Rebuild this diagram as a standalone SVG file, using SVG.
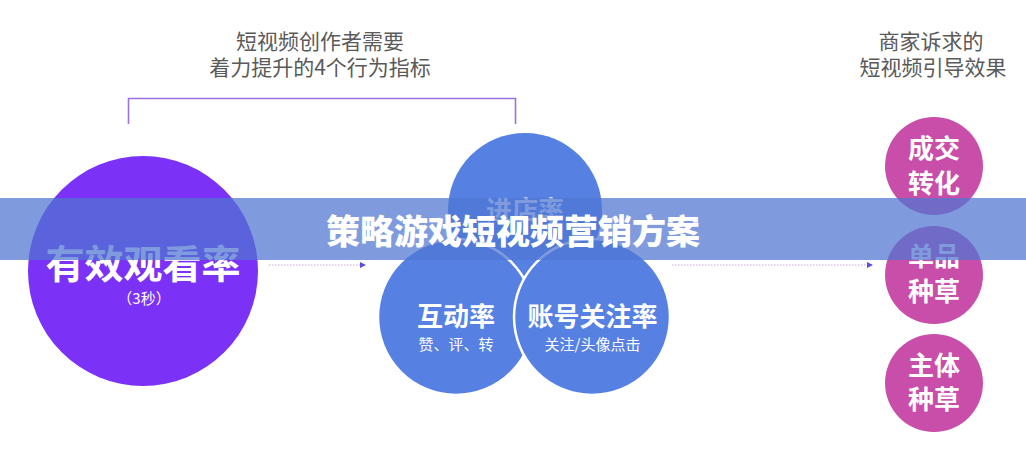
<svg xmlns="http://www.w3.org/2000/svg" width="1026" height="459" viewBox="0 0 1026 459">
  <defs>
    <style>
      text { font-family: "Noto Sans CJK SC", "Noto Sans", sans-serif; text-anchor: middle; }
      .label { font-size: 21px; fill: #5a5a5a; }
      .big { font-weight: bold; fill: #ffffff; }
      .sub { font-size: 15px; fill: #ffffff; }
      .blue { fill: #5681E3; }
      .pink { fill: #C84EAA; }
      .dot { stroke: #c9a6e6; stroke-width: 1.2; stroke-dasharray: 1.5 1.5; fill: none; }
    </style>
    <marker id="arr" viewBox="0 0 6 6" refX="5" refY="3" markerWidth="6" markerHeight="6" markerUnits="userSpaceOnUse" orient="auto">
      <path d="M0,0 L6,3 L0,6 Z" fill="#5a4fd8"/>
    </marker>
  </defs>
  <rect width="1026" height="459" fill="#ffffff"/>

  <g id="label-left">
    <text class="label" x="320" y="48.5">短视频创作者需要</text>
    <text class="label" x="320" y="75">着力提升的4个行为指标</text>
    <path d="M128.5,124 V98.5 H515.5 V124" fill="none" stroke="#9a72dc" stroke-width="1.6"/>
  </g>

  <g id="label-right">
    <text class="label" x="931" y="48.5">商家诉求的</text>
    <text class="label" x="933" y="75">短视频引导效果</text>
  </g>

  <g id="node-watch">
    <circle cx="143" cy="271" r="115" fill="#7B32F6"/>
    <text class="big" x="143" y="278" font-size="39" font-weight="900">有效观看率</text>
    <text class="sub" x="144" y="304">（3秒）</text>
  </g>

  <g id="node-store">
    <circle class="blue" cx="525" cy="210" r="77"/>
    <text class="big" x="525" y="220" font-size="26">进店率</text>
  </g>
  <g id="node-interact">
    <circle class="blue" cx="456" cy="317" r="78" stroke="#ffffff" stroke-width="2.5"/>
    <text class="big" x="456" y="326" font-size="26">互动率</text>
    <text class="sub" x="456" y="350">赞、评、转</text>
  </g>
  <g id="node-follow">
    <circle class="blue" cx="592" cy="317" r="78" stroke="#ffffff" stroke-width="2.5"/>
    <text class="big" x="592.5" y="326" font-size="26">账号关注率</text>
    <text class="sub" x="592.5" y="350">关注/头像点击</text>
  </g>

  <g id="node-deal">
    <circle class="pink" cx="934" cy="166" r="49"/>
    <text class="big" x="934" y="158" font-size="26">成交</text>
    <text class="big" x="934" y="193" font-size="26">转化</text>
  </g>
  <g id="node-item">
    <circle class="pink" cx="934" cy="275" r="49"/>
    <text class="big" x="934" y="266" font-size="26">单品</text>
    <text class="big" x="934" y="301" font-size="26">种草</text>
  </g>
  <g id="node-brand">
    <circle class="pink" cx="934" cy="383" r="49"/>
    <text class="big" x="934" y="375" font-size="26">主体</text>
    <text class="big" x="934" y="409" font-size="26">种草</text>
  </g>

  <g id="connectors">
    <line class="dot" x1="269" y1="265" x2="365" y2="265" marker-end="url(#arr)"/>
    <line class="dot" x1="672" y1="265" x2="872" y2="265" marker-end="url(#arr)"/>
  </g>

  <g id="banner">
    <rect x="0" y="198" width="1026" height="62" fill="#4f76d2" fill-opacity="0.73"/>
    <text x="513" y="244" font-size="34" font-weight="900" fill="#ffffff">策略游戏短视频营销方案</text>
  </g>
</svg>
